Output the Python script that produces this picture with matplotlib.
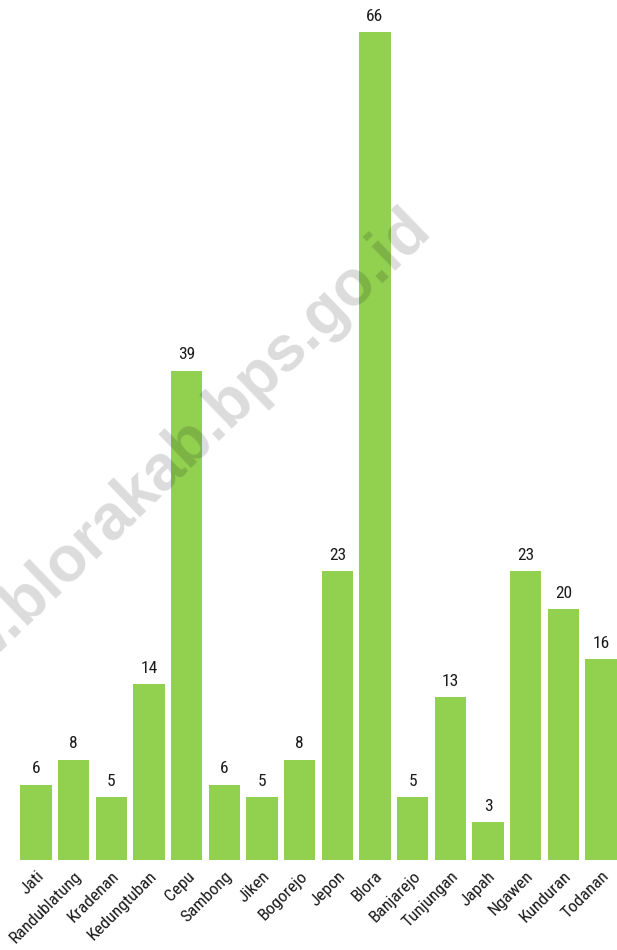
import matplotlib
matplotlib.use("Agg")
import matplotlib.pyplot as plt
import numpy as np

districts = [
    "Jati", "Randublatung", "Kradenan", "Kedungtuban", "Cepu", "Sambong",
    "Jiken", "Bogorejo", "Jepon", "Blora", "Banjarejo", "Tunjungan",
    "Japah", "Ngawen", "Kunduran", "Todanan",
]
counts = [6, 8, 5, 14, 39, 6, 5, 8, 23, 66, 5, 13, 3, 23, 20, 16]

BAR_COLOR = "#92d050"
plt.rcParams["font.family"] = ["Liberation Sans Narrow", "DejaVu Sans Condensed",
                               "Roboto Condensed", "DejaVu Sans"]
plt.rcParams["font.stretch"] = "condensed"

fig = plt.figure(figsize=(6.17, 9.5), dpi=100)
ax = fig.add_axes([0, 0.0947, 1, 0.9053])

x = np.arange(len(districts))
bars = ax.bar(x, counts, width=0.83, color=BAR_COLOR)

for xi, v in zip(x, counts):
    ax.annotate(str(v), (xi, v), xytext=(0, 6), textcoords="offset points",
                ha="center", va="bottom", fontsize=12.5, color="#1a1a1a")

ax.set_xlim(-0.956, 15.425)
ax.set_ylim(0, 68.55)
ax.set_xticks(x)
ax.set_xticklabels(districts, rotation=45, ha="right", rotation_mode="anchor",
                   fontsize=12.5, color="#1a1a1a")
ax.tick_params(axis="x", length=0, pad=6)
ax.set_yticks([])
for s in ax.spines.values():
    s.set_visible(False)

# watermark
fig.text(422 / 617, 1 - 222 / 950, "www.blorakab.bps.go.id", rotation=44,
         rotation_mode="anchor", ha="right", va="center", fontsize=46,
         fontweight="bold", family="Liberation Sans", fontstretch="normal",
         color="black", alpha=0.14)

fig.savefig("out.png", dpi=100)
